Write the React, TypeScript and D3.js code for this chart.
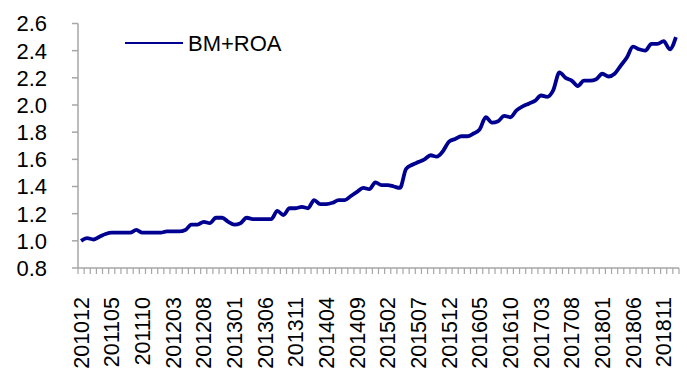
import { useEffect, useRef } from 'react';
import * as d3 from 'd3';

// monthly periods, 201012 .. 201901
const startYear = 2010;
const startMonth = 12;
const values = [
  1.0, 1.02, 1.01, 1.03, 1.05, 1.06, 1.06, 1.06, 1.06, 1.08,
  1.06, 1.06, 1.06, 1.06, 1.07, 1.07, 1.07, 1.08, 1.12, 1.12,
  1.14, 1.13, 1.17, 1.17, 1.14, 1.12, 1.13, 1.17, 1.16, 1.16,
  1.16, 1.16, 1.22, 1.19, 1.24, 1.24, 1.25, 1.24, 1.3, 1.27,
  1.27, 1.28, 1.3, 1.3, 1.33, 1.36, 1.39, 1.38, 1.43, 1.41,
  1.41, 1.4, 1.39, 1.53, 1.56, 1.58, 1.6, 1.63, 1.62, 1.66,
  1.73, 1.75, 1.77, 1.77, 1.79, 1.82, 1.91, 1.87, 1.88, 1.92,
  1.91, 1.96, 1.99, 2.01, 2.03, 2.07, 2.06, 2.11, 2.24, 2.2,
  2.18, 2.14, 2.18, 2.18, 2.19, 2.23, 2.21, 2.23, 2.29, 2.35,
  2.43, 2.41, 2.4, 2.45, 2.45, 2.47, 2.41, 2.5,
];
const yTicks = [0.8, 1.0, 1.2, 1.4, 1.6, 1.8, 2.0, 2.2, 2.4, 2.6];
const labelEvery = 5;
const seriesName = 'BM+ROA';

const periods = values.map((_, i) => {
  const m = startMonth - 1 + i;
  const y = startYear + Math.floor(m / 12);
  return `${y}${String((m % 12) + 1).padStart(2, '0')}`;
});

export default function App() {
  const svgRef = useRef<SVGSVGElement>(null);

  useEffect(() => {
    if (!svgRef.current) return;
    const svg = d3.select(svgRef.current);
    svg.selectAll('*').remove();

    const left = 78;
    const right = 679;
    const top = 23.5;
    const bottom = 268;
    const font = 'Liberation Sans, Arial, sans-serif';
    const axisColor = '#a6a6a6';
    const lineColor = '#000090';

    const x = d3.scaleBand<string>().domain(periods).range([left, right]);
    const y = d3.scaleLinear().domain([0.8, 2.6]).range([bottom, top]);
    const cx = (p: string) => (x(p) || 0) + x.bandwidth() / 2;

    // Y axis
    svg
      .append('line')
      .attr('x1', left)
      .attr('x2', left)
      .attr('y1', top)
      .attr('y2', bottom)
      .attr('stroke', axisColor)
      .attr('stroke-width', 1.5);

    const yt = svg.append('g').selectAll('g').data(yTicks).enter().append('g');
    yt.append('line')
      .attr('x1', left - 6)
      .attr('x2', left)
      .attr('y1', (d) => y(d))
      .attr('y2', (d) => y(d))
      .attr('stroke', axisColor)
      .attr('stroke-width', 1.5);
    yt.append('text')
      .attr('x', 47)
      .attr('y', (d) => y(d))
      .attr('dy', '0.36em')
      .attr('text-anchor', 'end')
      .attr('font-family', font)
      .attr('font-size', 22)
      .attr('fill', '#000')
      .text((d) => d.toFixed(1));

    // X axis
    svg
      .append('line')
      .attr('x1', left)
      .attr('x2', right)
      .attr('y1', bottom)
      .attr('y2', bottom)
      .attr('stroke', axisColor)
      .attr('stroke-width', 1.5);

    const bounds = periods.map((p) => x(p) || 0).concat([right]);
    svg
      .append('g')
      .selectAll('line')
      .data(bounds)
      .enter()
      .append('line')
      .attr('x1', (d) => d)
      .attr('x2', (d) => d)
      .attr('y1', bottom)
      .attr('y2', bottom + 6)
      .attr('stroke', axisColor)
      .attr('stroke-width', 1.2);

    svg
      .append('g')
      .selectAll('text')
      .data(periods.filter((_, i) => i % labelEvery === 0))
      .enter()
      .append('text')
      .attr('transform', (d) => `translate(${cx(d)},297) rotate(-90)`)
      .attr('dy', '0.36em')
      .attr('text-anchor', 'end')
      .attr('font-family', font)
      .attr('font-size', 21.5)
      .attr('fill', '#000')
      .text((d) => d);

    // Series line
    const line = d3
      .line<number>()
      .x((_, i) => cx(periods[i]))
      .y((d) => y(d))
      .curve(d3.curveMonotoneX);

    svg
      .append('path')
      .datum(values)
      .attr('fill', 'none')
      .attr('stroke', lineColor)
      .attr('stroke-width', 3.8)
      .attr('stroke-linejoin', 'round')
      .attr('d', line);

    // Legend
    svg
      .append('line')
      .attr('x1', 125)
      .attr('x2', 183)
      .attr('y1', 43)
      .attr('y2', 43)
      .attr('stroke', lineColor)
      .attr('stroke-width', 2);
    svg
      .append('text')
      .attr('x', 188)
      .attr('y', 43)
      .attr('dy', '0.36em')
      .attr('font-family', font)
      .attr('font-size', 22)
      .attr('fill', '#000')
      .text(seriesName);
  }, []);

  return (
    <svg
      ref={svgRef}
      width={687}
      height={384}
      style={{ position: 'absolute', left: 0, top: 0, background: '#fff' }}
    />
  );
}
